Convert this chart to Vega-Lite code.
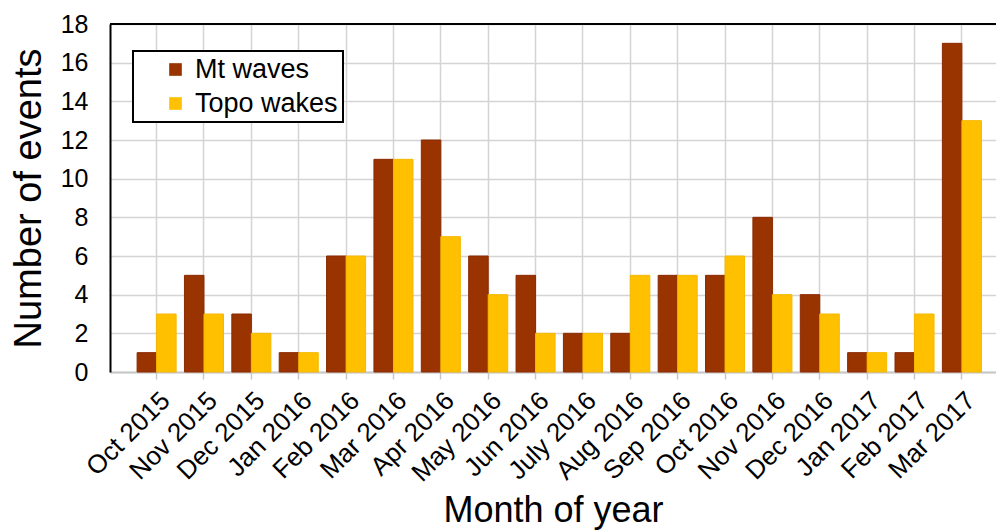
{
  "$schema": "https://vega.github.io/schema/vega-lite/v6.json",
  "width": 886,
  "height": 348,
  "autosize": {"type": "none"},
  "padding": {"left": 110, "top": 24, "right": 0, "bottom": 159},
  "background": "white",
  "config": {
    "view": {"stroke": null},
    "font": "Liberation Sans",
    "axis": {"labelColor": "#000000", "titleColor": "#000000", "titleFontWeight": "normal"},
    "axisY": {"labelOverlap": false},
    "legend": {"labelColor": "#000000"}
  },
  "data": {
    "values": [
      {"month": "Oct 2015", "series": "Mt waves", "count": 1},
      {"month": "Oct 2015", "series": "Topo wakes", "count": 3},
      {"month": "Nov 2015", "series": "Mt waves", "count": 5},
      {"month": "Nov 2015", "series": "Topo wakes", "count": 3},
      {"month": "Dec 2015", "series": "Mt waves", "count": 3},
      {"month": "Dec 2015", "series": "Topo wakes", "count": 2},
      {"month": "Jan 2016", "series": "Mt waves", "count": 1},
      {"month": "Jan 2016", "series": "Topo wakes", "count": 1},
      {"month": "Feb 2016", "series": "Mt waves", "count": 6},
      {"month": "Feb 2016", "series": "Topo wakes", "count": 6},
      {"month": "Mar 2016", "series": "Mt waves", "count": 11},
      {"month": "Mar 2016", "series": "Topo wakes", "count": 11},
      {"month": "Apr 2016", "series": "Mt waves", "count": 12},
      {"month": "Apr 2016", "series": "Topo wakes", "count": 7},
      {"month": "May 2016", "series": "Mt waves", "count": 6},
      {"month": "May 2016", "series": "Topo wakes", "count": 4},
      {"month": "Jun 2016", "series": "Mt waves", "count": 5},
      {"month": "Jun 2016", "series": "Topo wakes", "count": 2},
      {"month": "July 2016", "series": "Mt waves", "count": 2},
      {"month": "July 2016", "series": "Topo wakes", "count": 2},
      {"month": "Aug 2016", "series": "Mt waves", "count": 2},
      {"month": "Aug 2016", "series": "Topo wakes", "count": 5},
      {"month": "Sep 2016", "series": "Mt waves", "count": 5},
      {"month": "Sep 2016", "series": "Topo wakes", "count": 5},
      {"month": "Oct 2016", "series": "Mt waves", "count": 5},
      {"month": "Oct 2016", "series": "Topo wakes", "count": 6},
      {"month": "Nov 2016", "series": "Mt waves", "count": 8},
      {"month": "Nov 2016", "series": "Topo wakes", "count": 4},
      {"month": "Dec 2016", "series": "Mt waves", "count": 4},
      {"month": "Dec 2016", "series": "Topo wakes", "count": 3},
      {"month": "Jan 2017", "series": "Mt waves", "count": 1},
      {"month": "Jan 2017", "series": "Topo wakes", "count": 1},
      {"month": "Feb 2017", "series": "Mt waves", "count": 1},
      {"month": "Feb 2017", "series": "Topo wakes", "count": 3},
      {"month": "Mar 2017", "series": "Mt waves", "count": 17},
      {"month": "Mar 2017", "series": "Topo wakes", "count": 13}
    ]
  },
  "layer": [
    {
      "mark": {"type": "bar", "strokeWidth": 1},
      "encoding": {
        "x": {
          "field": "month",
          "type": "nominal",
          "sort": null,
          "scale": {"paddingInner": 0.176, "paddingOuter": 0.44, "align": 0.65},
          "axis": {
            "title": "Month of year",
            "titleFontSize": 36,
            "titlePadding": 7,
            "labelFontSize": 26,
            "labelAngle": -45,
            "labelPadding": 8,
            "labelOverlap": false,
            "grid": true,
            "gridColor": "#d4d4d4",
            "gridWidth": 1.5,
            "bandPosition": 0.5,
            "domainColor": "#c8c8c8",
            "domainWidth": 2,
            "ticks": true,
            "tickColor": "#c8c8c8",
            "tickWidth": 1.5,
            "tickSize": 7
          }
        },
        "xOffset": {"field": "series", "type": "nominal", "scale": {"paddingInner": 0, "paddingOuter": 0}},
        "y": {
          "field": "count",
          "type": "quantitative",
          "scale": {"domain": [0, 18], "nice": false},
          "axis": {
            "title": "Number of events",
            "titleFontSize": 38,
            "titlePadding": 12,
            "labelFontSize": 25,
            "labelPadding": 22,
            "labelOverlap": false,
            "labelFlush": false,
            "labelBound": false,
            "values": [0, 2, 4, 6, 8, 10, 12, 14, 16, 18],
            "grid": true,
            "gridColor": "#d4d4d4",
            "gridWidth": 1.5,
            "ticks": false,
            "domainColor": "#000000",
            "domainWidth": 2
          }
        },
        "color": {
          "field": "series",
          "type": "nominal",
          "scale": {"domain": ["Mt waves", "Topo wakes"], "range": ["#993300", "#FFC000"]},
          "legend": {
            "title": null,
            "orient": "none",
            "legendX": 23,
            "legendY": 27,
            "direction": "vertical",
            "labelFontSize": 27,
            "symbolType": "square",
            "symbolSize": 160,
            "symbolStrokeWidth": 0,
            "symbolOffset": 24,
            "labelOffset": 6,
            "padding": 5,
            "rowPadding": 6,
            "fillColor": "white",
            "strokeColor": "#000000",
            "encode": {"legend": {"update": {"strokeWidth": {"value": 2}}}}
          }
        },
        "stroke": {
          "field": "series",
          "type": "nominal",
          "scale": {"domain": ["Mt waves", "Topo wakes"], "range": ["#8a2a00", "#f5b800"]},
          "legend": null
        }
      }
    },
    {
      "mark": {"type": "rule", "color": "#000000", "strokeWidth": 2},
      "encoding": {
        "y": {
          "datum": 18,
          "type": "quantitative",
          "axis": {
            "title": "Number of events",
            "titleFontSize": 38,
            "titlePadding": 12,
            "labelFontSize": 25,
            "labelPadding": 22,
            "labelOverlap": false,
            "labelFlush": false,
            "labelBound": false,
            "values": [0, 2, 4, 6, 8, 10, 12, 14, 16, 18],
            "grid": true,
            "gridColor": "#d4d4d4",
            "gridWidth": 1.5,
            "ticks": false,
            "domainColor": "#000000",
            "domainWidth": 2
          }
        }
      }
    }
  ]
}
